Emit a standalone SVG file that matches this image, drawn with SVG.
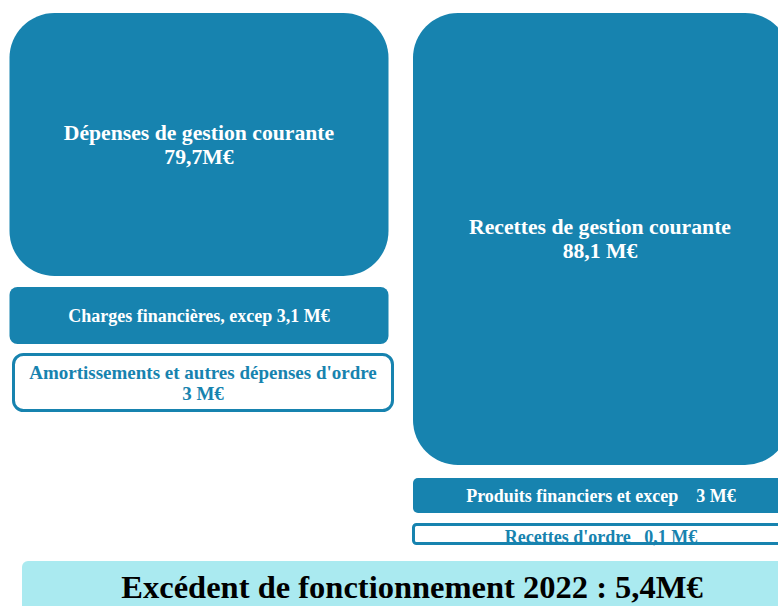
<svg xmlns="http://www.w3.org/2000/svg" width="778" height="606" viewBox="0 0 778 606">
<style>
.fill{fill:#1783af}
.out{fill:#ffffff;stroke:#1783af;stroke-width:3}
text{font-family:"Liberation Serif","Times New Roman",serif;font-weight:bold;text-anchor:middle}
.w{fill:#ffffff}
.b{fill:#1783af}
</style>
<rect width="778" height="606" fill="#ffffff"/>
<g id="depenses">
<rect class="fill" x="9.5" y="13" width="379" height="263" rx="45"/>
<text class="w" x="199" y="140" font-size="21.7">Dépenses de gestion courante</text>
<text class="w" x="199" y="164" font-size="21.7">79,7M€</text>
</g>
<g id="charges">
<rect class="fill" x="9.5" y="287" width="379" height="57" rx="8"/>
<text class="w" x="199" y="322" font-size="18">Charges financières, excep 3,1 M€</text>
</g>
<g id="amortissements">
<rect class="out" x="13.5" y="354.5" width="379" height="56" rx="10"/>
<text class="b" x="203" y="379" font-size="19">Amortissements et autres dépenses d'ordre</text>
<text class="b" x="203" y="400" font-size="19">3 M€</text>
</g>
<g id="recettes">
<rect class="fill" x="413" y="13" width="377" height="452" rx="45"/>
<text class="w" x="600" y="234" font-size="21.7">Recettes de gestion courante</text>
<text class="w" x="600" y="258" font-size="21.7">88,1 M€</text>
</g>
<g id="produits">
<rect class="fill" x="413" y="478" width="377" height="35" rx="5"/>
<text class="w" x="601" y="502" font-size="18" xml:space="preserve">Produits financiers et excep    3 M€</text>
</g>
<g id="recettes-ordre">
<text class="b" x="601" y="543" font-size="18" xml:space="preserve">Recettes d'ordre   0,1 M€</text>
<rect x="413.5" y="524.5" width="376" height="19" rx="3" fill="none" stroke="#1783af" stroke-width="3"/>
</g>
<g id="excedent">
<rect x="22" y="561" width="770" height="60" rx="6" fill="#aaeaf0"/>
<text x="412" y="598" font-size="32.5" fill="#000000">Excédent de fonctionnement 2022 : 5,4M€</text>
</g>
<g id="connectors"></g>
</svg>
